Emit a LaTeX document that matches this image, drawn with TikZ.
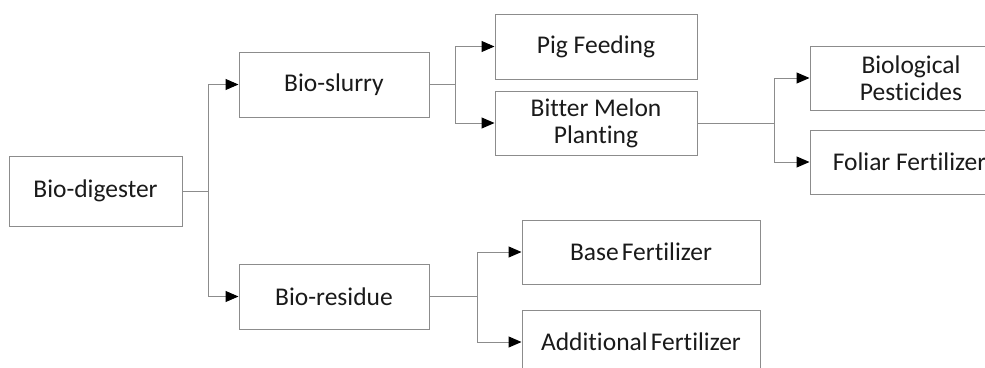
\documentclass[tikz,border=0pt]{standalone}
\usepackage{fontspec}
\setmainfont[Ligatures=NoCommon]{Carlito}
\usetikzlibrary{arrows.meta}
\definecolor{linegray}{HTML}{8C8C8C}
\definecolor{txt}{HTML}{1A1A1A}
\begin{document}
\begin{tikzpicture}[x=1pt,y=-1pt,
  box/.style={draw=linegray, line width=1pt, fill=white, text=txt,
    font=\fontsize{25.5}{27}\selectfont, align=center, inner sep=0pt},
  conn/.style={draw=linegray, line width=1pt},
  arr/.style={conn, -{Triangle[length=13pt,width=11pt,color=black,fill=black]}}]
\useasboundingbox (0,0) rectangle (985,367);
\clip (0,0) rectangle (985,367);
\node[box, minimum width=173pt, minimum height=70pt] (dig) at (95.5,191) {Bio-digester};
\node[box, minimum width=190pt, minimum height=65pt] (slurry) at (334,84.5) {Bio-slurry};
\node[box, minimum width=190pt, minimum height=65pt] (residue) at (334,296.5) {Bio-residue};
\node[box, minimum width=202pt, minimum height=65pt] (pig) at (596,46.5) {Pig Feeding};
\node[box, minimum width=202pt, minimum height=64pt] (melon) at (596,123) {Bitter Melon\\Planting};
\node[box, minimum width=202pt, minimum height=64pt] (pest) at (911,78) {Biological\\Pesticides};
\node[box, minimum width=202pt, minimum height=64pt] (foliar) at (911,162) {Foliar Fertilizer\hspace{3pt}};
\node[box, minimum width=238pt, minimum height=64pt] (base) at (641,252) {Base\hspace{0.12em}Fertilizer};
\node[box, minimum width=238pt, minimum height=64pt] (addl) at (641,342) {Additional\hspace{0.12em}Fertilizer};
\coordinate (j1) at (208,191);
\coordinate (j2) at (455,84.5);
\coordinate (j3) at (774,123);
\coordinate (j4) at (477,296.5);
\draw[conn] (dig.east) -- (j1);
\draw[arr] (j1) |- (slurry.west);
\draw[arr] (j1) |- (residue.west);
\draw[conn] (slurry.east) -- (j2);
\draw[arr] (j2) |- (pig.west);
\draw[arr] (j2) |- (melon.west);
\draw[conn] (melon.east) -- (j3);
\draw[arr] (j3) |- (pest.west);
\draw[arr] (j3) |- (foliar.west);
\draw[conn] (residue.east) -- (j4);
\draw[arr] (j4) |- (base.west);
\draw[arr] (j4) |- (addl.west);
\end{tikzpicture}
\end{document}
